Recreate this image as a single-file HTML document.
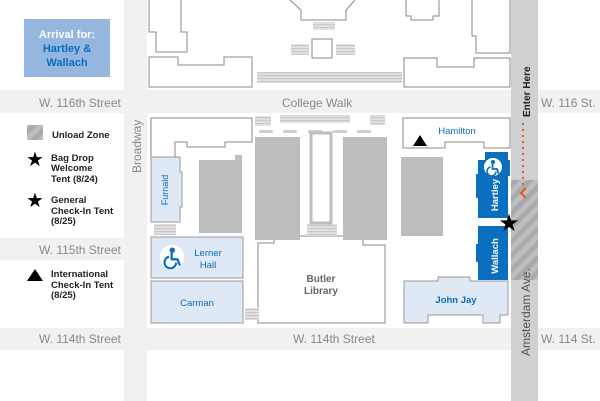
<!DOCTYPE html>
<html><head><meta charset="utf-8"><style>
html,body{margin:0;padding:0;background:#fff}
svg{display:block}
text{font-family:"Liberation Sans",sans-serif}
</style></head><body>
<svg width="600" height="401" viewBox="0 0 600 401" xmlns="http://www.w3.org/2000/svg">
<defs>
<pattern id="h" width="10" height="10" patternUnits="userSpaceOnUse" patternTransform="rotate(45)">
<rect width="10" height="10" fill="#bdbec0"/><rect width="5" height="10" fill="#a9aaac"/>
</pattern>
<pattern id="st" width="4" height="3" patternUnits="userSpaceOnUse">
<rect width="4" height="3" fill="#e2e2e2"/><rect width="4" height="1.2" fill="#c8c8c8"/>
</pattern>
<g id="wc">
<circle cx="1" cy="-6" r="1.6"/>
<path d="M0.5,-4 V1 H5 L6.5,5" fill="none" stroke-width="1.8" stroke-linecap="round" stroke-linejoin="round"/>
<path d="M-1.5,-1 A4.5,4.5 0 1 0 4,3.5" fill="none" stroke-width="1.6"/>
</g>
</defs>
<rect width="600" height="401" fill="#fff"/>
<!-- streets -->
<rect x="0" y="90" width="600" height="23" fill="#f1f1f1"/>
<rect x="0" y="238" width="125" height="22" fill="#f1f1f1"/>
<rect x="0" y="328" width="600" height="22" fill="#f1f1f1"/>
<rect x="124" y="0" width="23" height="401" fill="#f1f1f1"/>
<rect x="511" y="0" width="27" height="401" fill="#cfd0d1"/>
<rect x="511" y="180" width="27" height="100" fill="url(#h)"/>
<!-- top area buildings -->
<g fill="#fff" stroke="#8a8a8a" stroke-width="1">
<path d="M149,0 V32 H156 V52 H187 V32 H181 V0"/>
<path d="M149,57 H178 V65 H224 V57 H252 V87 H149 Z"/>
<path d="M290,0 L301,10 V20 H346 V10 L355,0"/>
<rect x="312" y="39" width="20" height="19"/>
<path d="M406,0 V16 H411 V20 H433 V16 H439 V0"/>
<path d="M472,0 V36 H476 V53 H510 V0"/>
<path d="M404,58 H437 V67 H474 V58 H510 V87 H404 Z"/>
<path d="M151,118 H252 V142 H225 V147 H187 V142 H175 V157 H151 Z"/>
<path d="M403,118 H510 V148 H484 V142 H445 V148 H403 Z"/>
<path d="M258,250 V243 H274 V236 H363 V245 H385 V323 H258 Z"/>
</g>
<rect x="291" y="44" width="18" height="11" fill="url(#st)"/>
<rect x="336" y="44" width="19" height="11" fill="url(#st)"/>
<rect x="313" y="22" width="22" height="8" fill="url(#st)"/>
<rect x="257" y="72" width="145" height="11" fill="url(#st)"/>
<rect x="255" y="116" width="16" height="10" fill="url(#st)"/>
<rect x="280" y="115" width="70" height="8" fill="url(#st)"/>
<rect x="370" y="115" width="15" height="10" fill="url(#st)"/>
<rect x="154" y="224" width="22" height="11" fill="url(#st)"/>
<rect x="307" y="224" width="30" height="12" fill="url(#st)"/>
<rect x="245" y="308" width="14" height="12" fill="url(#st)"/>
<g fill="#cfcfcf"><rect x="259" y="130" width="14" height="3"/><rect x="283" y="130" width="14" height="3"/><rect x="308" y="130" width="14" height="3"/><rect x="333" y="130" width="14" height="3"/><rect x="357" y="130" width="14" height="3"/></g>
<!-- grey blocks -->
<g fill="#bdbec0">
<path d="M199,160 H235 V155 H242 V233 H199 Z"/>
<rect x="255" y="137" width="45" height="103"/>
<rect x="343" y="137" width="44" height="103"/>
<rect x="401" y="157" width="42" height="79"/>
</g>
<rect x="311" y="133" width="20" height="90" fill="#fff" stroke="#bdbec0" stroke-width="3"/>
<!-- light blue buildings -->
<g fill="#dfe9f6" stroke="#9a9a9a" stroke-width="1">
<path d="M151,157 H180 V172 H182 V207 H180 V222 H151 Z"/>
<rect x="151" y="237" width="92" height="41"/>
<rect x="151" y="281" width="92" height="42"/>
<path d="M404,281 H438 V277 H470 V281 H508 V315 H500 V323 H483 V315 H428 V323 H404 Z"/>
</g>
<!-- Hartley/Wallach -->
<g fill="#0b6fc0">
<path d="M485,152 H508 V160 H510 V176 H508 V218 H478 V198 H476 V174 H478 V160 H485 Z"/>
<path d="M478,226 H508 V280 H478 V262 H476 V244 H478 Z"/>
</g>
<circle cx="493" cy="167" r="9" fill="#fff"/>
<use href="#wc" x="492" y="168" fill="#0b6fc0" stroke="#0b6fc0"/>
<circle cx="172" cy="257" r="12" fill="#fff"/>
<use href="#wc" transform="translate(171,258) scale(1.3)" fill="#0b6fc0" stroke="#0b6fc0"/>
<!-- labels -->
<g fill="#0b6cbf" font-size="9.5" text-anchor="middle">
<text x="208" y="256">Lerner</text><text x="208" y="268">Hall</text>
<text x="197" y="306">Carman</text>
<text x="457" y="134">Hamilton</text>
<text x="456" y="303" font-weight="bold">John Jay</text>
<text transform="translate(168,190) rotate(-90)" font-size="9">Furnald</text>
</g>
<g fill="#fff" font-size="9.5" font-weight="bold" text-anchor="middle">
<text transform="translate(498,195) rotate(-90)">Hartley</text>
<text transform="translate(498,256) rotate(-90)">Wallach</text>
</g>
<g fill="#888" font-size="12" font-weight="500">
<text x="39" y="107">W. 116th Street</text>
<text x="282" y="107">College Walk</text>
<text x="541" y="107">W. 116 St.</text>
<text x="39" y="254">W. 115th Street</text>
<text x="39" y="343">W. 114th Street</text>
<text x="293" y="343">W. 114th Street</text>
<text x="541" y="343">W. 114 St.</text>
<text transform="translate(141,173) rotate(-90)">Broadway</text>
<text transform="translate(530,356) rotate(-90)" fill="#555">Amsterdam Ave.</text>
</g>
<text x="321" y="282" font-size="10" font-weight="bold" fill="#666" text-anchor="middle">Butler</text>
<text x="321" y="294" font-size="10" font-weight="bold" fill="#666" text-anchor="middle">Library</text>
<text transform="translate(530,117) rotate(-90)" font-size="10" font-weight="bold" fill="#222">Enter Here</text>
<g fill="#e05a1c">
<circle cx="523" cy="124" r="1.1"/><circle cx="523" cy="130" r="1.1"/><circle cx="523" cy="136" r="1.1"/><circle cx="523" cy="142" r="1.1"/><circle cx="523" cy="148" r="1.1"/><circle cx="523" cy="154" r="1.1"/><circle cx="523" cy="160" r="1.1"/><circle cx="523" cy="166" r="1.1"/><circle cx="523" cy="172" r="1.1"/><circle cx="523" cy="178" r="1.1"/><circle cx="523" cy="184" r="1.1"/>
</g>
<path d="M526,188 L521,193 L526,198" fill="none" stroke="#e05a1c" stroke-width="2"/>
<!-- markers -->
<text x="509" y="231" font-size="24" text-anchor="middle" fill="#000">★</text>
<polygon points="420,135 413,146 427,146" fill="#000"/>
<!-- legend -->
<rect x="24" y="19" width="86" height="58" fill="#94b6df"/>
<text x="67" y="38" font-size="11" font-weight="bold" fill="#fff" text-anchor="middle">Arrival for:</text>
<text x="67" y="52" font-size="11" font-weight="bold" fill="#0b6cbf" text-anchor="middle">Hartley &amp;</text>
<text x="67" y="66" font-size="11" font-weight="bold" fill="#0b6cbf" text-anchor="middle">Wallach</text>
<rect x="27" y="125" width="16" height="15" fill="url(#h)"/>
<g font-size="9.5" font-weight="bold" fill="#222">
<text x="52" y="138">Unload Zone</text>
<text x="51" y="161">Bag Drop</text><text x="51" y="171">Welcome</text><text x="51" y="182">Tent (8/24)</text>
<text x="51" y="203">General</text><text x="51" y="214">Check-In Tent</text><text x="51" y="224">(8/25)</text>
<text x="51" y="277">International</text><text x="51" y="288">Check-In Tent</text><text x="51" y="298">(8/25)</text>
</g>
<text x="35" y="166" font-size="20" text-anchor="middle">★</text>
<text x="35" y="207" font-size="20" text-anchor="middle">★</text>
<polygon points="35,269 27,281 43,281" fill="#000"/>
</svg>
</body></html>
